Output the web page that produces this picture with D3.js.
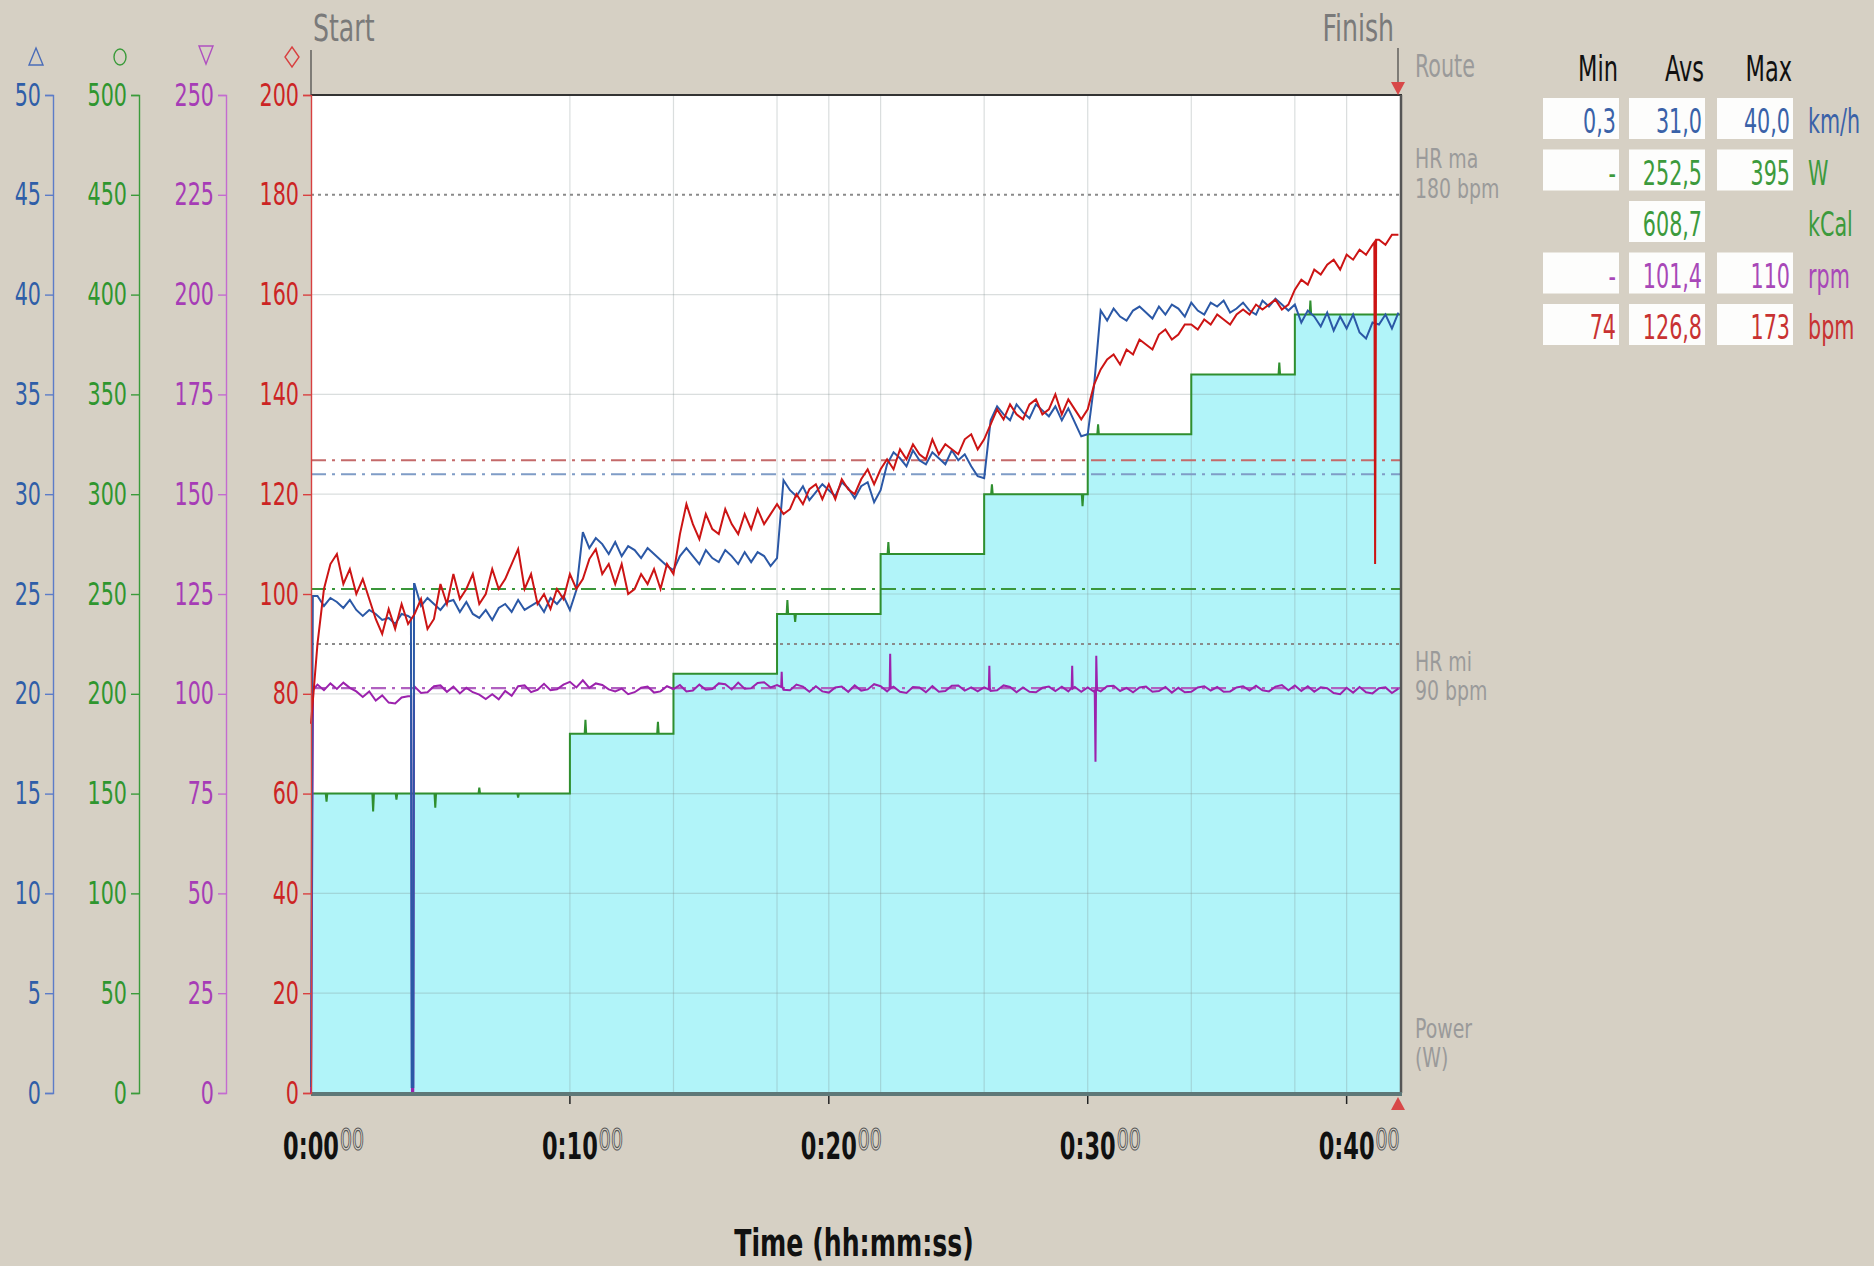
<!DOCTYPE html>
<html lang="en">
<head>
<meta charset="UTF-8">
<title>Ride</title>
<script src="https://cdn.jsdelivr.net/npm/d3@7"></script>
<style>
  body { margin: 0; background: #d6d0c4; }
  svg { display: block; }
  text { font-family: "DejaVu Sans Condensed", "DejaVu Sans", sans-serif; }
</style>
</head>
<body>
<svg id="chart" width="1874" height="1266"></svg>
<script>
// one sample every 15 s (0.25 min), one row = one minute
var sampleStep = 0.25;
var rideEnd = 42.1;

var heartRate = [
  74, 90, 101, 106,   108, 102, 105, 100,   103, 99, 95, 92,    97, 93, 98, 94,
  96, 99, 93, 95,     102, 98, 104, 99,     101, 104, 98, 100,  105, 101, 103, 106,
  109, 101, 104, 98,  100, 97, 101, 99,     104, 101, 103, 107, 109, 104, 106, 102,
  106, 100, 101, 104, 102, 105, 101, 106,   104, 112, 118, 114, 111, 116, 113, 112,
  117, 114, 112, 116, 113, 117, 114, 116,   118, 116, 117, 120, 118, 121, 122, 119,
  122, 119, 123, 121, 120, 123, 125, 122,   125, 127, 125, 129, 127, 130, 128, 127,
  131, 128, 130, 129, 128, 131, 132, 129,   131, 134, 137, 135, 138, 136, 135, 138,
  139, 136, 137, 140, 136, 139, 137, 135,   137, 142, 145, 147, 148, 146, 149, 148,
  151, 150, 149, 152, 153, 151, 152, 154,   154, 153, 155, 154, 156, 155, 154, 156,
  157, 156, 158, 157, 158, 159, 157, 158,   161, 163, 162, 165, 164, 166, 167, 165,
  168, 167, 169, 168, 170, 171, 170, 172,   172
];

var speed = [
  0.3, 24.9, 24.4, 24.8,  24.6, 24.3, 24.7, 24.2,  23.9, 24.2, 24.0, 23.7,  23.8, 23.5, 24.0, 23.9,
  25.5, 24.4, 24.8, 24.5, 24.2, 24.6, 24.7, 24.1,  24.6, 24.0, 23.8, 24.2,  23.7, 24.3, 24.5, 24.1,
  24.7, 24.2, 24.4, 24.6, 24.1, 24.8, 24.5, 24.9,  24.2, 25.2, 28.1, 27.3,  27.8, 27.5, 27.0, 27.6,
  26.9, 27.4, 27.2, 26.8, 27.3, 27.0, 26.7, 26.4,  26.2, 26.9, 27.3, 26.9,  26.5, 27.2, 26.8, 26.6,
  27.2, 26.9, 26.5, 27.1, 26.6, 27.1, 26.9, 26.4,  26.8, 30.7, 30.2, 29.9,  30.4, 29.7, 30.1, 30.5,
  30.2, 29.9, 30.6, 30.3, 29.8, 30.4, 30.6, 29.6,  30.2, 31.5, 32.1, 31.8,  31.4, 32.2, 31.7, 31.5,
  32.1, 31.8, 31.5, 32.2, 31.7, 32.0, 31.4, 30.9,  30.8, 33.7, 34.4, 34.0,  33.7, 34.5, 34.1, 33.8,
  34.5, 34.2, 33.9, 34.4, 33.7, 34.3, 33.6, 32.9,  33.0, 35.5, 39.2, 38.7,  39.3, 38.9, 38.7, 39.2,
  39.4, 39.1, 38.8, 39.4, 39.0, 39.5, 39.3, 38.9,  39.6, 39.2, 39.0, 39.6,  39.4, 39.7, 39.1, 39.3,
  39.6, 39.2, 39.0, 39.7, 39.4, 39.8, 39.5, 39.2,  39.5, 38.6, 39.2, 38.9,  38.4, 39.1, 38.2, 38.9,
  38.3, 39.0, 38.1, 37.8, 38.6, 38.5, 39.0, 38.3,  39.1
];

var cadence = [
  0, 102.3, 100.9, 102.6,     101.2, 102.8, 101.5, 100.6,  99.2, 100.6, 98.3, 99.6,    97.8, 97.6, 99.1, 99.4,
  101.8, 100.2, 100.4, 101.9, 102.1, 100.5, 101.8, 100.1,  101.5, 100.4, 99.8, 98.7,   99.9, 98.6, 100.7, 99.5,
  101.9, 102.1, 100.4, 101.0, 102.5, 100.9, 101.1, 102.3,  103.0, 101.6, 103.4, 101.5, 102.6, 102.2, 101.1, 100.6,
  101.3, 99.9, 100.4, 101.5,  101.8, 100.3, 100.6, 101.9,  101.2, 102.2, 100.6, 100.8, 102.3, 101.0, 101.2, 102.6,
  102.4, 101.1, 102.8, 101.3, 101.4, 102.7, 102.9, 101.6,  102.2, 101.0, 100.9, 102.3, 101.8, 100.5, 101.9, 100.6,
  100.3, 101.6, 101.8, 100.5, 102.1, 100.8, 101.1, 102.4,  101.9, 100.6, 101.8, 100.5, 100.2, 101.7, 101.6, 100.4,
  101.9, 100.5, 100.7, 102.0, 102.1, 100.8, 101.6, 100.6,  101.6, 100.7, 100.9, 102.1, 101.7, 100.4, 101.6, 100.5,
  100.4, 101.5, 101.8, 100.7, 101.8, 100.6, 101.7, 100.5,  101.6, 100.5, 100.6, 101.9, 102.0, 100.7, 101.5, 100.4,
  101.6, 101.8, 100.5, 100.7, 101.7, 100.3, 101.5, 100.4,  100.5, 101.6, 101.9, 100.8, 101.7, 100.5, 100.6, 101.6,
  101.9, 100.8, 102.0, 100.9, 100.6, 101.8, 102.2, 100.9,  102.1, 100.7, 101.9, 100.5, 101.6, 101.4, 100.2, 99.9,
  101.5, 100.3, 101.7, 100.4, 100.1, 101.4, 101.6, 100.2,  101.3
];

// short events between the 15 s samples: [minute, value]
var speedEvents = [[0.07, 24.9], [3.86, 23.8], [3.89, 0.3], [3.95, 0.3], [3.98, 25.5]];
var cadenceEvents = [
  [0.08, 101], [3.87, 99.4], [3.9, 0], [3.95, 0], [3.98, 100.8],
  [18.16, 101.7], [18.18, 105.5], [18.2, 101.9],
  [22.35, 101.2], [22.37, 110], [22.39, 101.4],
  [26.18, 101.1], [26.2, 107], [26.22, 101.5],
  [29.38, 101.5], [29.4, 107], [29.42, 101.3],
  [30.27, 101.1], [30.3, 83], [30.33, 109.5], [30.36, 101]
];
var hrEvents = [[41.07, 170.5], [41.1, 106], [41.12, 138], [41.14, 171]];

// power test: step starts (min) and watts
var powerStarts = [0, 10, 14, 18, 22, 26, 30, 34, 38];
var powerWatts = [150, 180, 210, 240, 270, 300, 330, 360, 390];
var powerBlips = [[0.6, 146], [2.4, 141], [3.3, 147], [4.8, 143], [6.5, 153], [8.0, 148],
  [10.6, 187], [13.4, 186], [18.4, 247], [18.7, 236], [22.3, 276], [26.3, 305], [29.8, 294],
  [30.4, 335], [37.4, 366], [38.6, 397]];

var averageSpeed = 31.0, averagePower = 252.5, averageCadence = 101.4, averageHr = 126.8;
var hrLimits = [180, 90];

var hrTicks = [0, 20, 40, 60, 80, 100, 120, 140, 160, 180, 200];
var speedTicks = [0, 5, 10, 15, 20, 25, 30, 35, 40, 45, 50];
var powerTicks = [0, 50, 100, 150, 200, 250, 300, 350, 400, 450, 500];
var cadenceTicks = [0, 25, 50, 75, 100, 125, 150, 175, 200, 225, 250];
var timeTicks = [0, 10, 20, 30, 40];
var lapMarks = [10, 14, 18, 20, 22, 26, 30, 34, 38, 40];

var tableUnits = ["km/h", "W", "kCal", "rpm", "bpm"];
var tableMin = ["0,3", "-", null, "-", "74"];
var tableAvg = ["31,0", "252,5", "608,7", "101,4", "126,8"];
var tableMax = ["40,0", "395", null, "110", "173"];

var cBlue = "#2b58a6", cGreen = "#2f8f2f", cPurple = "#9c22ad", cRed = "#cc1414";
var rowColors = ["#3a62a8", "#3c9a3c", "#3c9a3c", "#a848b8", "#c83232"];

var svg = d3.select("#chart");
// note: "top" is a reserved window property, so the plot box uses p* names
var pLeft = 311, pRight = 1401, pTop = 95, pBottom = 1093;

var x = d3.scaleLinear().domain([0, rideEnd]).range([pLeft, pRight]);
var yHr = d3.scaleLinear().domain([0, 200]).range([pBottom, pTop]);
var ySpeed = d3.scaleLinear().domain([0, 50]).range([pBottom, pTop]);
var yPower = d3.scaleLinear().domain([0, 500]).range([pBottom, pTop]);
var yCad = d3.scaleLinear().domain([0, 250]).range([pBottom, pTop]);

function withEvents(values, events) {
  var pts = values.map(function(v, i) { return [i * sampleStep, v]; });
  events.forEach(function(e) { pts.push(e); });
  return pts.sort(function(a, b) { return a[0] - b[0]; });
}

function stepAt(t) {
  var w = powerWatts[0];
  powerStarts.forEach(function(s, i) { if (t >= s) w = powerWatts[i]; });
  return w;
}

var powerPts = [];
powerStarts.forEach(function(s, i) {
  var e = i < powerStarts.length - 1 ? powerStarts[i + 1] : rideEnd;
  powerPts.push([s, powerWatts[i]], [e, powerWatts[i]]);
});
powerBlips.forEach(function(b) {
  var base = stepAt(b[0]);
  powerPts.push([b[0] - 0.03, base], [b[0], b[1]], [b[0] + 0.03, base]);
});
powerPts.sort(function(a, b) { return a[0] - b[0]; });

// stretched text, py = vertical centre
function addText(parent, px, py, str, o) {
  var g = parent.append("g")
    .attr("transform", "translate(" + px + "," + py + ") scale(" + (o.sx || 1) + "," + (o.sy || 1.4) + ")");
  var t = g.append("text")
    .attr("text-anchor", o.anchor || "start")
    .attr("dy", "0.36em")
    .style("font-size", o.size + "px")
    .attr("fill", o.color || "#000")
    .text(str);
  if (o.weight) t.style("font-weight", o.weight);
  if (o.stroke) t.attr("stroke", o.stroke).attr("stroke-width", o.strokeWidth || 0.8);
  return t;
}

// plot background
svg.append("rect").attr("x", pLeft).attr("y", pTop).attr("width", pRight - pLeft).attr("height", pBottom - pTop).attr("fill", "#ffffff");

// power fill
svg.append("path").datum(powerPts)
  .attr("fill", "#b1f4f9")
  .attr("d", d3.area().x(function(d) { return x(d[0]); }).y0(pBottom).y1(function(d) { return yPower(d[1]); }));

// grid
svg.append("g").selectAll("line").data(hrTicks.filter(function(v) { return v > 0 && v < 200 && v !== 180; }))
  .join("line")
  .attr("x1", pLeft).attr("x2", pRight)
  .attr("y1", function(d) { return yHr(d); }).attr("y2", function(d) { return yHr(d); })
  .attr("stroke", "#7a8a8a").attr("stroke-opacity", 0.28).attr("stroke-width", 1.2);
svg.append("g").selectAll("line").data(lapMarks).join("line")
  .attr("x1", function(d) { return x(d); }).attr("x2", function(d) { return x(d); })
  .attr("y1", pTop).attr("y2", pBottom)
  .attr("stroke", "#7a8a8a").attr("stroke-opacity", 0.28).attr("stroke-width", 1.2);

// HR limits
svg.append("g").selectAll("line").data(hrLimits).join("line")
  .attr("x1", pLeft).attr("x2", pRight)
  .attr("y1", function(d) { return yHr(d); }).attr("y2", function(d) { return yHr(d); })
  .attr("stroke", "#8a8a8a").attr("stroke-width", 2).attr("stroke-dasharray", "3,4");

// averages
var dashDot = "15,6,3,6";
[[yPower(averagePower), "#3a963a"], [yCad(averageCadence), "#b060c0"],
 [ySpeed(averageSpeed), "#7f9cc6"], [yHr(averageHr), "#c46a6a"]].forEach(function(a) {
  svg.append("line").attr("x1", pLeft).attr("x2", pRight).attr("y1", a[0]).attr("y2", a[0])
    .attr("stroke", a[1]).attr("stroke-width", 2.2).attr("stroke-dasharray", dashDot);
});

// series
var line = d3.line().x(function(d) { return x(d[0]); });
svg.append("path").datum(powerPts).attr("fill", "none").attr("stroke", cGreen).attr("stroke-width", 2)
  .attr("d", line.y(function(d) { return yPower(d[1]); }));
svg.append("path").datum(withEvents(cadence, cadenceEvents)).attr("fill", "none").attr("stroke", cPurple).attr("stroke-width", 2)
  .attr("d", line.y(function(d) { return yCad(d[1]); }));
svg.append("path").datum(withEvents(speed, speedEvents)).attr("fill", "none").attr("stroke", cBlue).attr("stroke-width", 2)
  .attr("d", line.y(function(d) { return ySpeed(d[1]); }));
svg.append("path").datum(withEvents(heartRate, hrEvents)).attr("fill", "none").attr("stroke", cRed).attr("stroke-width", 2)
  .attr("d", line.y(function(d) { return yHr(d[1]); }));

// frame
svg.append("line").attr("x1", pLeft).attr("x2", pRight + 1).attr("y1", pTop).attr("y2", pTop).attr("stroke", "#333").attr("stroke-width", 2);
svg.append("line").attr("x1", pRight).attr("x2", pRight).attr("y1", pTop).attr("y2", pBottom).attr("stroke", "#555").attr("stroke-width", 2.5);
svg.append("line").attr("x1", pLeft).attr("x2", pRight + 1).attr("y1", pBottom + 1).attr("y2", pBottom + 1).attr("stroke", "#5e7878").attr("stroke-width", 4);

// left axes
function leftAxis(scale, ticks, xpos, lineColor, textColor) {
  var g = svg.append("g").attr("transform", "translate(" + xpos + ",0)")
    .call(d3.axisLeft(scale).tickValues(ticks).tickSize(8).tickSizeOuter(8).tickPadding(4));
  g.attr("font-family", null).attr("font-size", null);
  g.select(".domain").attr("stroke", lineColor).attr("stroke-width", 1.4);
  g.selectAll(".tick line").attr("stroke", lineColor).attr("stroke-width", 1.4);
  g.selectAll(".tick text").attr("fill", textColor).style("font-size", "23px")
    .attr("transform", "scale(1,1.38)");
}
leftAxis(ySpeed, speedTicks, 53, "#5c7cc8", "#2f5ea8");
leftAxis(yPower, powerTicks, 139, "#3b9b3b", "#2f962f");
leftAxis(yCad, cadenceTicks, 226, "#c46cd0", "#a63cb6");
leftAxis(yHr, hrTicks, pLeft, "#d84040", "#cc2424");

// axis symbols
svg.append("path").attr("d", "M36,48L43,65L29,65Z").attr("fill", "none").attr("stroke", "#4a6cb8").attr("stroke-width", 1.4);
svg.append("ellipse").attr("cx", 120).attr("cy", 57).attr("rx", 6).attr("ry", 8).attr("fill", "none").attr("stroke", "#3b9b3b").attr("stroke-width", 1.4);
svg.append("path").attr("d", "M199,46L213,46L206,64Z").attr("fill", "none").attr("stroke", "#b050c0").attr("stroke-width", 1.4);
svg.append("path").attr("d", "M292,47L299,57L292,67L285,57Z").attr("fill", "none").attr("stroke", "#d84040").attr("stroke-width", 1.4);

// time axis
timeTicks.forEach(function(t) {
  var gx = x(t);
  if (t > 0) {
    svg.append("line").attr("x1", gx).attr("x2", gx).attr("y1", pBottom + 3).attr("y2", pBottom + 11)
      .attr("stroke", "#222").attr("stroke-width", 1.5);
  }
  var main = addText(svg, gx, 1145, "0:" + d3.format("02")(t), { size: 25, sy: 1.5, anchor: "middle", weight: "bold", color: "#111" });
  var w = main.node().getComputedTextLength();
  addText(svg, gx + w / 2 + 1, 1139, "00", { size: 21, sy: 1.45, color: "#ddd8ce", stroke: "#555" });
});
addText(svg, 854, 1243, "Time (hh:mm:ss)", { size: 28, sy: 1.3, anchor: "middle", weight: "bold", color: "#111" });

// route markers
svg.append("line").attr("x1", pLeft).attr("x2", pLeft).attr("y1", 50).attr("y2", pTop).attr("stroke", "#444").attr("stroke-width", 1.2);
svg.append("line").attr("x1", pRight - 3).attr("x2", pRight - 3).attr("y1", 48).attr("y2", 84).attr("stroke", "#444").attr("stroke-width", 1.2);
svg.append("path").attr("d", "M" + (pRight - 10) + ",82L" + (pRight + 4) + ",82L" + (pRight - 3) + ",95Z").attr("fill", "#d84848");
svg.append("path").attr("d", "M" + (pRight - 10) + ",1110L" + (pRight + 4) + ",1110L" + (pRight - 3) + ",1097Z").attr("fill", "#d84848");
addText(svg, pLeft + 2, 27, "Start", { size: 28, sy: 1.35, color: "#7a7a7a" });
addText(svg, pRight - 7, 27, "Finish", { size: 28, sy: 1.35, anchor: "end", color: "#7a7a7a" });

// right side labels
var sideGrey = "#9a9a9a";
addText(svg, 1415, 66, "Route", { size: 23, sy: 1.35, color: sideGrey });
addText(svg, 1415, 158, "HR ma", { size: 21, sy: 1.3, color: sideGrey });
addText(svg, 1415, 188, "180 bpm", { size: 21, sy: 1.3, color: sideGrey });
addText(svg, 1415, 661, "HR mi", { size: 21, sy: 1.3, color: sideGrey });
addText(svg, 1415, 690, "90 bpm", { size: 21, sy: 1.3, color: sideGrey });
addText(svg, 1415, 1028, "Power", { size: 21, sy: 1.3, color: sideGrey });
addText(svg, 1415, 1057, "(W)", { size: 21, sy: 1.3, color: sideGrey });

// stats table
var colRight = [1619, 1705, 1793];
var boxWidth = 76;
var columns = [tableMin, tableAvg, tableMax];
["Min", "Avs", "Max"].forEach(function(h, c) {
  addText(svg, colRight[c] - 1, 68, h, { size: 25, sy: 1.4, anchor: "end", color: "#111" });
});
tableUnits.forEach(function(u, r) {
  var rowTop = 98 + r * 51.5;
  columns.forEach(function(col, c) {
    if (col[r] === null) return;
    svg.append("rect").attr("x", colRight[c] - boxWidth).attr("y", rowTop).attr("width", boxWidth).attr("height", 41).attr("fill", "#fdfdfc");
    addText(svg, colRight[c] - 3, rowTop + 23, col[r], { size: 23, sy: 1.45, anchor: "end", color: rowColors[r] });
  });
  addText(svg, 1808, rowTop + 23, u, { size: 23, sy: 1.45, color: rowColors[r] });
});
</script>
</body>
</html>
